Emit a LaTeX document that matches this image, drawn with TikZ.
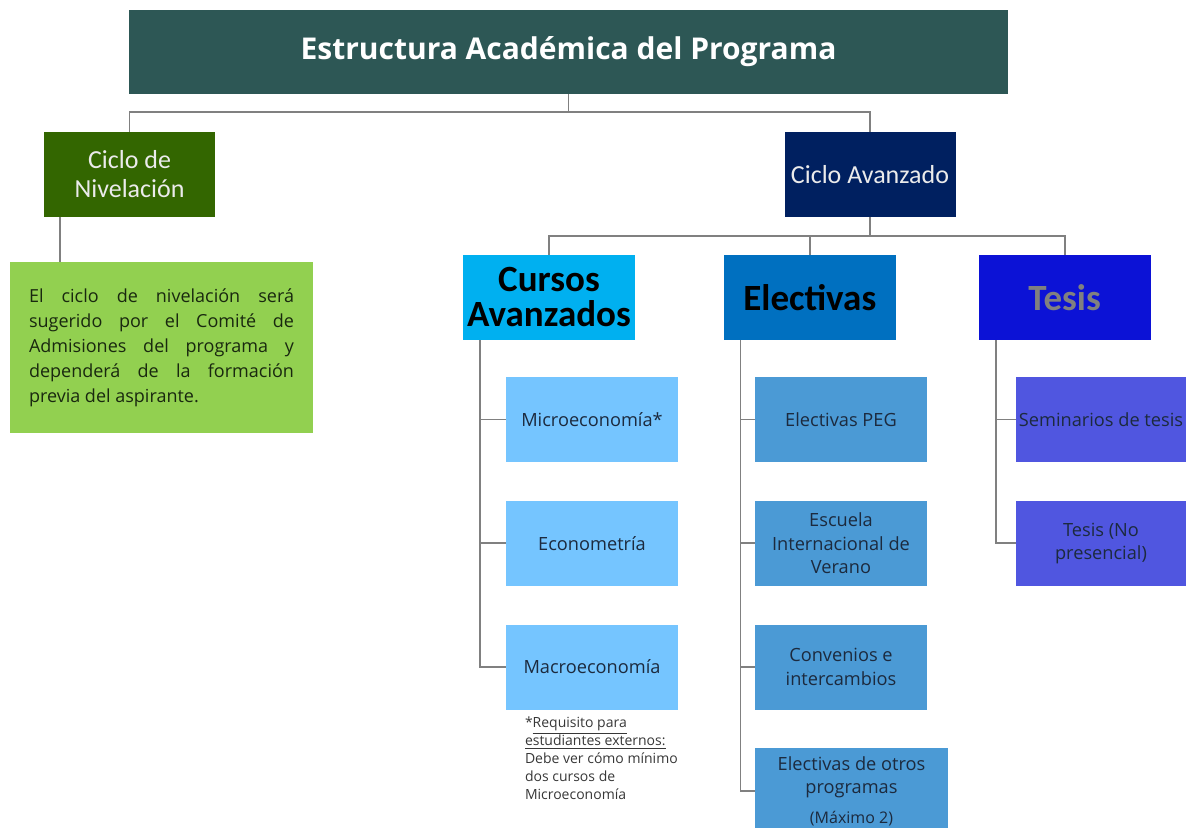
\documentclass[tikz,border=0pt]{standalone}
\usepackage{fontspec}
\setmainfont{Open Sans}
\newfontfamily\calfont{Carlito}
\usepackage{tikz}
\usetikzlibrary{positioning}
\definecolor{tealhead}{RGB}{45,87,85}
\definecolor{nivgreen}{RGB}{51,102,0}
\definecolor{lightgreen}{RGB}{146,208,80}
\definecolor{navyhead}{RGB}{0,32,96}
\definecolor{cyanhead}{RGB}{0,176,240}
\definecolor{elechead}{RGB}{0,112,192}
\definecolor{tesishead}{RGB}{12,18,214}
\definecolor{cursitem}{RGB}{117,197,255}
\definecolor{elecitem}{RGB}{75,154,213}
\definecolor{tesisitem}{RGB}{80,86,224}
\definecolor{itemtext}{RGB}{28,42,62}
\definecolor{greentext}{RGB}{25,40,15}
\definecolor{notetext}{RGB}{55,55,55}
\definecolor{linkgray}{RGB}{128,128,128}
\tikzset{
    block/.style={rectangle, align=center, inner sep=1pt, minimum width=86pt, minimum height=42.5pt},
    ciclo/.style={block, text=white!92!black, minimum width=85.5pt, font=\calfont\fontsize{13}{14.5}\selectfont},
    head/.style={block, font=\calfont\bfseries\fontsize{18.5}{17.5}\selectfont},
    item/.style={block, text=itemtext, font=\fontsize{9.1}{11.75}\selectfont},
    link/.style={draw=linkgray, line width=0.9pt}
}
\begin{document}
\begin{tikzpicture}[x=0.5pt, y=-0.5pt, node distance=19pt]
\useasboundingbox (0,0) rectangle (1189,828);

% Title
\node[block, fill=tealhead, text=white, minimum width=439.5pt, minimum height=42pt, font=\bfseries\fontsize{15}{17}\selectfont] (titulo) at (568.5,52) {Estructura Académica del Programa};

% Cycles
\node[ciclo, fill=nivgreen] (nivel) at (129.5,174.5) {Ciclo de\\Nivelación};
\node[ciclo, fill=navyhead] (avanzado) at (870,174.5) {Ciclo Avanzado};
\node[block, fill=lightgreen, minimum width=151.5pt, minimum height=85.5pt, text width=132.5pt, align=justify, text=greentext, font=\fontsize{9}{12.5}\selectfont] (nivtexto) at (161.5,347.5) {El ciclo de nivelación será\linebreak sugerido por el Comité de\linebreak Admisiones del programa y\linebreak dependerá de la formación\linebreak previa del aspirante.};

% Advanced cycle groups
\node[head, fill=cyanhead] (cursos) at (549,297.5) {Cursos\\Avanzados};
\node[head, fill=elechead] (electivas) [right=44pt of cursos] {Electivas};
\node[head, fill=tesishead, text=linkgray] (tesis) [right=41pt of electivas] {Tesis};

% Cursos avanzados
\node[item, fill=cursitem] (micro) at (592,419.5) {Microeconomía*};
\node[item, fill=cursitem] (econo) [below=of micro] {Econometría};
\node[item, fill=cursitem] (macro) [below=of econo] {Macroeconomía};
\node[anchor=north west, inner sep=0pt, align=left, text=notetext, font=\fontsize{7}{9}\selectfont] (nota) at ([xshift=9.5pt, yshift=-3pt]macro.south west) {*\underline{Requisito para}\\\underline{estudiantes externos:}\\Debe ver cómo mínimo\\dos cursos de\\Microeconomía};

% Electivas
\node[item, fill=elecitem] (peg) at (841,419.5) {Electivas PEG};
\node[item, fill=elecitem] (escuela) [below=of peg] {Escuela\\Internacional de\\Verano};
\node[item, fill=elecitem] (convenios) [below=of escuela] {Convenios e\\intercambios};
\node[item, fill=elecitem, minimum width=96.5pt] (otros) [below=of convenios.south west, anchor=north west] {Electivas de otros\\programas\\[3pt]{\fontsize{8}{10}\selectfont(Máximo 2)}};

% Tesis
\node[item, fill=tesisitem, minimum width=85pt] (seminarios) at (1101,419.5) {Seminarios de tesis};
\node[item, fill=tesisitem, minimum width=85pt] (tesisnp) [below=of seminarios] {Tesis (No\\presencial)};

% Connectors
\draw[link] (titulo.south) -- ++(0,18) -| (nivel.north);
\draw[link] (titulo.south) -- ++(0,18) -| (avanzado.north);
\coordinate (nivdrop) at ([xshift=8pt]nivel.south west);
\draw[link] (nivdrop) -- (nivdrop |- nivtexto.north);
\draw[link] (avanzado.south) -- ++(0,19) -| (cursos.north);
\draw[link] (avanzado.south) -- ++(0,19) -| (electivas.north);
\draw[link] (avanzado.south) -- ++(0,19) -| (tesis.north);

\draw[link] ([xshift=8.5pt]cursos.south west) |- (micro.west);
\draw[link] ([xshift=8.5pt]cursos.south west) |- (econo.west);
\draw[link] ([xshift=8.5pt]cursos.south west) |- (macro.west);
\draw[link] ([xshift=8.5pt]electivas.south west) |- (peg.west);
\draw[link] ([xshift=8.5pt]electivas.south west) |- (escuela.west);
\draw[link] ([xshift=8.5pt]electivas.south west) |- (convenios.west);
\draw[link] ([xshift=8.5pt]electivas.south west) |- (otros.west);
\draw[link] ([xshift=9pt]tesis.south west) |- (seminarios.west);
\draw[link] ([xshift=9pt]tesis.south west) |- (tesisnp.west);

\end{tikzpicture}
\end{document}
